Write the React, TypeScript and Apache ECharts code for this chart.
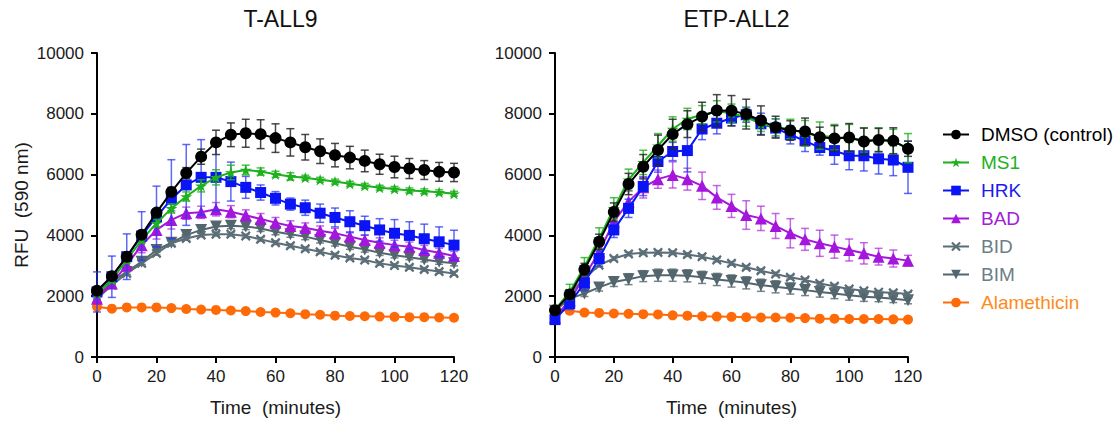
import React, { useEffect, useRef } from "react";
import * as echarts from "echarts";

const times = [0, 5, 10, 15, 20, 25, 30, 35, 40, 45, 50, 55, 60, 65, 70, 75, 80, 85, 90, 95, 100, 105, 110, 115, 120];
const xTicks = [0, 20, 40, 60, 80, 100, 120];
const yTicks = [0, 2000, 4000, 6000, 8000, 10000];
const panelTitles = ["T-ALL9", "ETP-ALL2"];
const seriesNames = ["DMSO (control)", "MS1", "HRK", "BAD", "BID", "BIM", "Alamethicin"];

// T-ALL9
const dmsoL = [2180, 2660, 3300, 4020, 4750, 5430, 6050, 6590, 7060, 7310, 7360, 7330, 7200, 7060, 6900, 6770, 6640, 6560, 6450, 6340, 6250, 6200, 6150, 6090, 6070];
const dmsoLErr = [100, 100, 100, 100, 120, 150, 180, 250, 400, 390, 460, 475, 470, 450, 420, 405, 385, 370, 355, 330, 355, 330, 310, 310, 300];
const ms1L = [2090, 2530, 3190, 3850, 4400, 4890, 5280, 5630, 5910, 6070, 6150, 6100, 6010, 5940, 5900, 5830, 5770, 5700, 5630, 5570, 5530, 5480, 5450, 5420, 5370];
const ms1LErr = [80, 80, 100, 100, 120, 150, 150, 200, 250, 240, 160, 120, 100, 120, 80, 80, 80, 80, 80, 80, 80, 80, 80, 80, 80];
const hrkL = [2140, 2640, 3300, 3980, 4620, 5190, 5660, 5910, 5910, 5770, 5580, 5410, 5220, 5030, 4910, 4730, 4590, 4450, 4320, 4180, 4070, 4000, 3890, 3790, 3680];
const hrkLErr = [660, 680, 750, 800, 1000, 1300, 1330, 1240, 1100, 640, 360, 250, 220, 200, 250, 300, 310, 360, 310, 370, 450, 450, 480, 490, 490];
const badL = [1920, 2420, 3020, 3680, 4180, 4510, 4730, 4760, 4860, 4780, 4660, 4540, 4420, 4310, 4250, 4150, 4070, 3960, 3850, 3760, 3680, 3630, 3520, 3430, 3320];
const badLErr = [100, 150, 200, 250, 300, 300, 200, 200, 220, 200, 180, 180, 170, 170, 160, 160, 160, 160, 160, 160, 160, 150, 150, 150, 150];
const bidL = [1920, 2360, 2750, 3080, 3410, 3740, 3900, 4010, 4040, 4040, 3980, 3870, 3760, 3660, 3560, 3460, 3350, 3260, 3190, 3080, 3010, 2950, 2880, 2810, 2750];
const bidLErr = [60, 60, 60, 60, 60, 60, 60, 60, 60, 60, 60, 60, 60, 60, 60, 60, 60, 60, 60, 60, 60, 60, 60, 60, 60];
const bimL = [1980, 2470, 2800, 3130, 3520, 3760, 4010, 4180, 4290, 4320, 4290, 4230, 4120, 4040, 3960, 3850, 3740, 3630, 3540, 3430, 3350, 3280, 3210, 3130, 3080];
const bimLErr = [80, 80, 80, 80, 80, 90, 100, 100, 100, 100, 100, 100, 100, 100, 100, 100, 90, 90, 90, 90, 90, 80, 80, 80, 80];
const alamL = [1650, 1590, 1630, 1630, 1630, 1610, 1580, 1560, 1550, 1530, 1510, 1480, 1460, 1440, 1410, 1390, 1360, 1350, 1340, 1330, 1320, 1310, 1310, 1300, 1290];
const alamLErr = [40, 40, 40, 40, 40, 40, 40, 40, 40, 40, 40, 40, 40, 40, 40, 40, 40, 40, 40, 40, 40, 40, 40, 40, 40];

// ETP-ALL2
const dmsoR = [1540, 2060, 2880, 3790, 4770, 5690, 6260, 6810, 7330, 7660, 7910, 8110, 8100, 7990, 7780, 7560, 7450, 7420, 7230, 7190, 7220, 7090, 7140, 7110, 6850];
const dmsoRErr = [100, 150, 200, 250, 300, 350, 400, 490, 490, 440, 470, 520, 500, 490, 480, 360, 320, 440, 330, 420, 460, 440, 380, 430, 250];
const ms1R = [1560, 2140, 2970, 3900, 4890, 5830, 6400, 6950, 7500, 7830, 7970, 8080, 8020, 7890, 7670, 7560, 7500, 7360, 7280, 7230, 7200, 7140, 7140, 7090, 6870];
const ms1RErr = [100, 250, 300, 350, 350, 350, 400, 400, 400, 350, 300, 350, 300, 300, 250, 280, 320, 420, 450, 420, 450, 400, 400, 400, 480];
const hrkR = [1230, 1760, 2440, 3240, 4180, 4890, 5610, 6430, 6760, 6790, 7500, 7690, 7860, 7970, 7670, 7530, 7310, 7110, 6890, 6790, 6620, 6620, 6520, 6480, 6240];
const hrkRErr = [150, 200, 250, 250, 250, 300, 300, 350, 300, 700, 350, 350, 250, 250, 350, 300, 300, 350, 250, 450, 460, 500, 500, 515, 860];
const badR = [1300, 1870, 2640, 3460, 4450, 5110, 5580, 5850, 5990, 5850, 5630, 5250, 4970, 4670, 4560, 4310, 4070, 3870, 3740, 3630, 3520, 3410, 3300, 3240, 3170];
const badRErr = [100, 150, 200, 250, 300, 350, 350, 300, 430, 360, 450, 390, 380, 470, 400, 410, 480, 360, 430, 380, 360, 350, 275, 280, 175];
const bidR = [1540, 2090, 2580, 3020, 3240, 3390, 3430, 3440, 3430, 3370, 3300, 3190, 3080, 2950, 2840, 2730, 2620, 2530, 2420, 2330, 2240, 2180, 2130, 2110, 2070];
const bidRErr = [60, 60, 60, 60, 60, 60, 60, 60, 60, 60, 60, 60, 60, 60, 60, 60, 60, 60, 60, 60, 60, 60, 60, 60, 60];
const bimR = [1520, 1920, 2090, 2290, 2470, 2560, 2660, 2690, 2690, 2670, 2620, 2550, 2500, 2440, 2360, 2310, 2250, 2200, 2140, 2090, 2030, 1980, 1960, 1920, 1870];
const bimRErr = [60, 80, 100, 120, 150, 180, 180, 200, 200, 200, 200, 200, 200, 200, 200, 200, 180, 180, 170, 170, 160, 150, 140, 130, 120];
const alamR = [1560, 1520, 1460, 1450, 1430, 1420, 1410, 1400, 1370, 1360, 1340, 1330, 1320, 1310, 1300, 1300, 1290, 1280, 1260, 1260, 1250, 1250, 1250, 1240, 1230];
const alamRErr = [40, 40, 40, 40, 40, 40, 40, 40, 40, 40, 40, 40, 40, 40, 40, 40, 40, 40, 40, 40, 40, 40, 40, 40, 40];

const FONT = "'Liberation Sans', Arial, sans-serif";
const STAR = "path://M50,0 L61.8,35.4 L99,35.4 L69,57.3 L80.4,92.7 L50,70.8 L19.6,92.7 L31,57.3 L1,35.4 L38.2,35.4 Z";
const XMARK = "path://M0,16 L16,0 L50,34 L84,0 L100,16 L66,50 L100,84 L84,100 L50,66 L16,100 L0,84 L34,50 Z";

const styles = [
  { color: "#000000", err: "rgba(40,40,40,0.85)", text: "#000000", symbol: "circle", size: 12, rotate: 0 },
  { color: "#1DB11D", err: "rgba(29,177,29,0.8)", text: "#22B022", symbol: STAR, size: 12, rotate: 0 },
  { color: "#0A14F5", err: "rgba(40,55,245,0.75)", text: "#1A1AF0", symbol: "rect", size: 11, rotate: 0 },
  { color: "#A516DC", err: "rgba(170,40,220,0.7)", text: "#A020D8", symbol: "triangle", size: 12, rotate: 0 },
  { color: "#5B6E77", err: "rgba(90,110,118,0.8)", text: "#6C7E86", symbol: XMARK, size: 10, rotate: 0 },
  { color: "#53666E", err: "rgba(83,102,110,0.8)", text: "#6C7E86", symbol: "triangle", size: 12, rotate: 180 },
  { color: "#FF6A08", err: "rgba(255,106,8,0.7)", text: "#FF8A1A", symbol: "circle", size: 10, rotate: 0 },
];

const panelData = [
  [[dmsoL, dmsoLErr], [ms1L, ms1LErr], [hrkL, hrkLErr], [badL, badLErr], [bidL, bidLErr], [bimL, bimLErr], [alamL, alamLErr]],
  [[dmsoR, dmsoRErr], [ms1R, ms1RErr], [hrkR, hrkRErr], [badR, badRErr], [bidR, bidRErr], [bimR, bimRErr], [alamR, alamRErr]],
];

export default function App() {
  const ref = useRef<HTMLDivElement>(null);
  useEffect(() => {
    if (!ref.current) return;
    const chart = echarts.init(ref.current, null, { renderer: "svg" });
    const series: any[] = [];
    panelData.forEach((panel, p) => {
      panel.forEach(([vals, errs], k) => {
        const st = styles[k];
        const z = 20 - 2 * k;
        series.push({
          type: "custom",
          name: seriesNames[k] + " err " + p,
          xAxisIndex: p,
          yAxisIndex: p,
          z: z - 1,
          silent: true,
          data: times.map((t, i) => [t, vals[i] - errs[i], vals[i] + errs[i]]),
          encode: { x: 0, y: [1, 2] },
          renderItem: (params: any, api: any) => {
            const x = api.value(0);
            const lo = api.coord([x, api.value(1)]);
            const hi = api.coord([x, api.value(2)]);
            const hw = 4;
            const style = { stroke: st.err, lineWidth: 1.5 };
            return {
              type: "group",
              children: [
                { type: "line", shape: { x1: lo[0], y1: lo[1], x2: hi[0], y2: hi[1] }, style },
                { type: "line", shape: { x1: lo[0] - hw, y1: lo[1], x2: lo[0] + hw, y2: lo[1] }, style },
                { type: "line", shape: { x1: hi[0] - hw, y1: hi[1], x2: hi[0] + hw, y2: hi[1] }, style },
              ],
            };
          },
        });
        series.push({
          type: "line",
          name: seriesNames[k],
          xAxisIndex: p,
          yAxisIndex: p,
          z,
          data: times.map((t, i) => [t, vals[i]]),
          symbol: st.symbol,
          symbolSize: st.size,
          symbolRotate: st.rotate,
          symbolKeepAspect: true,
          lineStyle: { color: st.color, width: 2 },
          itemStyle: { color: st.color, opacity: 1 },
          clip: false,
        });
      });
    });

    const axisLine = { show: true, lineStyle: { color: "#000", width: 2 } };
    const axisTick = { show: true, length: 6, lineStyle: { color: "#000", width: 2 } };
    const xAxis = [0, 1].map((p) => ({
      type: "value",
      gridIndex: p,
      min: 0,
      max: 120,
      interval: 20,
      axisLine,
      axisTick,
      splitLine: { show: false },
      axisLabel: { fontSize: 17, color: "#1a1a1a", fontFamily: FONT, margin: 11, customValues: xTicks },
      name: "Time  (minutes)",
      nameLocation: "middle",
      nameGap: 41,
      nameTextStyle: { fontSize: 19, color: "#1a1a1a", fontFamily: FONT },
    }));
    const yAxis = [0, 1].map((p) => ({
      type: "value",
      gridIndex: p,
      min: 0,
      max: 10000,
      interval: 2000,
      axisLine,
      axisTick,
      splitLine: { show: false },
      axisLabel: {
        fontSize: 17,
        color: "#1a1a1a",
        fontFamily: FONT,
        margin: 13,
        customValues: yTicks,
        formatter: (v: number) => String(v),
      },
      name: p === 0 ? "RFU  (590 nm)" : "",
      nameLocation: "middle",
      nameGap: 66,
      nameTextStyle: { fontSize: 19, color: "#1a1a1a", fontFamily: FONT },
    }));

    chart.setOption({
      animation: false,
      backgroundColor: "#ffffff",
      title: panelTitles.map((t, p) => ({
        text: t,
        left: p === 0 ? 275.5 : 731.5,
        top: 2,
        textAlign: "center",
        textStyle: { fontSize: 23, fontWeight: "normal", color: "#111", fontFamily: FONT },
      })),
      grid: [
        { left: 97, right: 664, top: 53, bottom: 66, containLabel: false },
        { left: 555, right: 210, top: 53, bottom: 66, containLabel: false },
      ],
      xAxis,
      yAxis,
      legend: {
        orient: "vertical",
        left: 942,
        top: 125,
        padding: 0,
        itemWidth: 26,
        itemHeight: 12,
        itemGap: 9,
        selectedMode: false,
        textStyle: { fontSize: 19, fontFamily: FONT, padding: [0, 0, 0, 7] },
        data: seriesNames.map((n, k) => ({ name: n, textStyle: { color: styles[k].text } })),
      },
      series,
    });
    return () => chart.dispose();
  }, []);
  return <div ref={ref} style={{ position: "fixed", left: 0, top: 0, width: 1118, height: 423 }} />;
}
